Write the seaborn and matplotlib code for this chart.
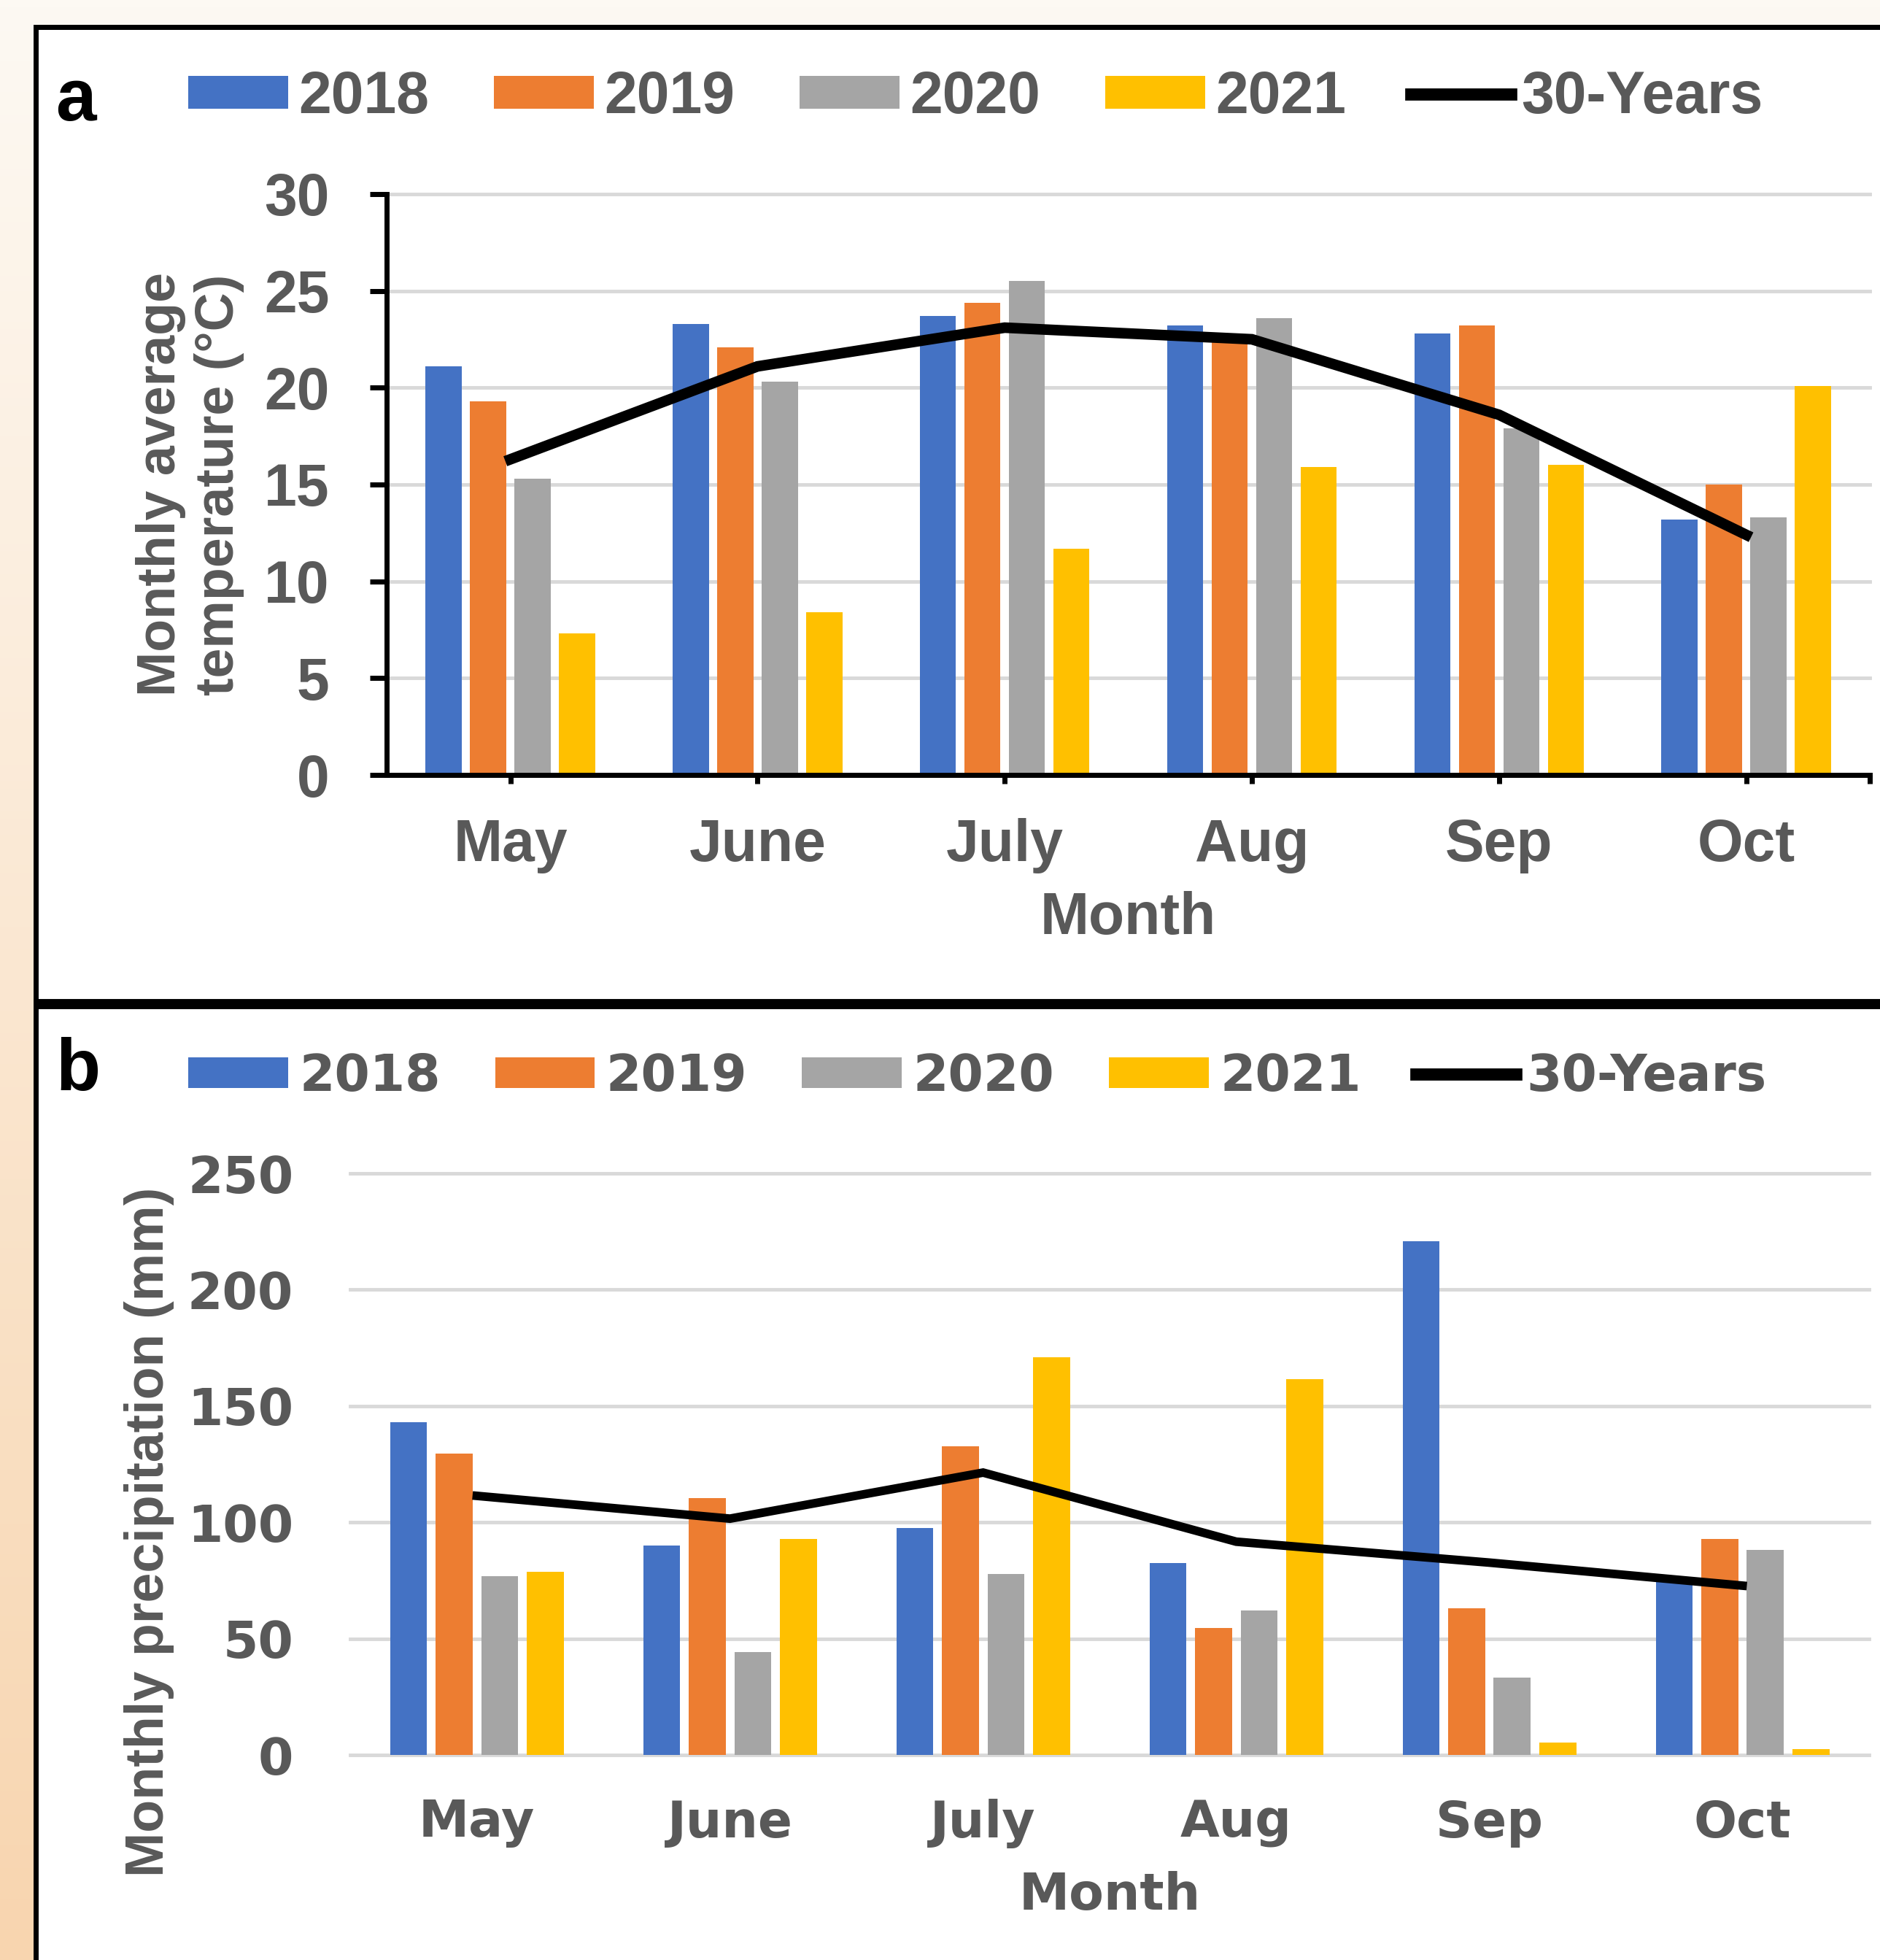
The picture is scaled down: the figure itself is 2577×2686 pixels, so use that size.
import numpy as np
import pandas as pd
import matplotlib
matplotlib.use("Agg")
import matplotlib.pyplot as plt
from matplotlib.patches import Patch, Rectangle
from matplotlib.lines import Line2D
import seaborn as sns

# data
months = ["May", "June", "July", "Aug", "Sep", "Oct"]
years = ["2018", "2019", "2020", "2021"]

temp_2018 = [21.1, 23.3, 23.7, 23.2, 22.8, 13.2]
temp_2019 = [19.3, 22.1, 24.4, 22.4, 23.2, 15.0]
temp_2020 = [15.3, 20.3, 25.5, 23.6, 17.9, 13.3]
temp_2021 = [7.3, 8.4, 11.7, 15.9, 16.0, 20.1]
temp_30yr = [16.3, 21.1, 23.1, 22.5, 18.6, 12.4]

prec_2018 = [143.0, 90.0, 97.5, 82.6, 221.0, 74.5]
prec_2019 = [129.7, 110.4, 132.6, 54.7, 63.1, 92.8]
prec_2020 = [76.8, 44.2, 77.7, 62.1, 33.3, 88.1]
prec_2021 = [78.7, 92.8, 170.9, 161.5, 5.4, 2.5]
prec_30yr = [111.4, 101.6, 121.4, 91.7, 82.7, 72.8]

colors = ["#4472C4", "#ED7D31", "#A5A5A5", "#FFC000"]
grey_txt = "#595959"
grid_col = "#d9d9d9"

plt.rcParams["font.family"] = ["Liberation Sans", "DejaVu Sans"]
plt.rcParams["font.weight"] = "bold"
plt.rcParams["axes.labelweight"] = "bold"


def long_table(series):
    return pd.DataFrame({
        "Month": months * len(years),
        "Year": np.repeat(years, len(months)),
        "value": np.concatenate(series),
    })


df_temp = long_table([temp_2018, temp_2019, temp_2020, temp_2021])
df_prec = long_table([prec_2018, prec_2019, prec_2020, prec_2021])

fig = plt.figure(figsize=(25.77, 26.86), dpi=100)

# background: cream to peach gradient, white box with black frame
bg = fig.add_axes([0, 0, 1, 1], zorder=-10)
top_c = np.array([253, 249, 243]) / 255
bot_c = np.array([248, 213, 175]) / 255
t = np.linspace(0, 1, 256)[:, None, None]
bg.imshow(top_c * (1 - t) + bot_c * t, aspect="auto", extent=[0, 1, 0, 1])
bg.axis("off")
fig.add_artist(Rectangle((0.019, -0.05), 1.1, 0.9862 + 0.05, transform=fig.transFigure,
                         facecolor="white", edgecolor="black", lw=5, zorder=-5))
fig.add_artist(Line2D([0.019, 1.0], [0.4878, 0.4878], transform=fig.transFigure,
                      color="black", lw=10, solid_capstyle="butt", zorder=-4))


def draw_panel(ax, df, normal, fam, fsize, lw):
    sns.barplot(data=df, x="Month", y="value", hue="Year", palette=colors,
                width=0.72, gap=0.19, saturation=1, errorbar=None, legend=False, ax=ax)
    sns.pointplot(x=months, y=normal, color="black", marker="", errorbar=None, ax=ax)
    for ln in ax.lines:
        ln.set_linewidth(lw)
        ln.set_solid_joinstyle("miter")
    ax.set_xlim(-0.5, 5.5)
    ax.set_axisbelow(True)
    ax.yaxis.grid(True, color=grid_col, lw=3.5)
    ax.xaxis.grid(False)
    ax.tick_params(labelsize=fsize, labelcolor=grey_txt, labelfontfamily=fam)
    ax.set_xlabel("Month", fontsize=fsize, color=grey_txt, family=fam, weight="bold")
    handles = [Patch(facecolor=c, label=y) for c, y in zip(colors, years)]
    handles.append(Line2D([], [], color="black", lw=12, label="30-Years"))
    return handles


# ---- panel a: temperature
ax_a = fig.add_axes([0.2057, 0.6046, 0.7889, 0.2964])
h = draw_panel(ax_a, df_temp, temp_30yr, "Liberation Sans", 58, 10.5)
ax_a.set_ylim(0, 30)
ax_a.set_yticks(range(0, 31, 5))
ax_a.set_xticks([5.5], minor=True)
for s in ["top", "right"]:
    ax_a.spines[s].set_visible(False)
for s in ["left", "bottom"]:
    ax_a.spines[s].set_linewidth(5)
    ax_a.spines[s].set_color("black")
ax_a.tick_params(axis="y", length=16.5, width=5, pad=40, color="black")
ax_a.tick_params(axis="x", which="both", length=8.6, width=5, pad=34, color="black")
ax_a.set_ylabel("Monthly average\ntemperature (°C)", fontsize=53, color=grey_txt, weight="bold")
ax_a.yaxis.set_label_coords(-0.096, 0.5)
ax_a.xaxis.set_label_coords(0.5, -0.20)
for gl in ax_a.get_ygridlines():
    gl.set_clip_on(False)
ax_a.legend(handles=h, loc="center left", bbox_to_anchor=(258 / 2577, 1 - 134 / 2686),
            bbox_transform=fig.transFigure, ncol=5, frameon=False, fontsize=58,
            handlelength=1.70, handleheight=0.48, handletextpad=0.18, columnspacing=1.1,
            borderpad=0, borderaxespad=0, labelcolor=grey_txt)

# ---- panel b: precipitation
ax_b = fig.add_axes([0.1863, 0.1046, 0.8079, 0.2967])
h = draw_panel(ax_b, df_prec, prec_30yr, "DejaVu Sans", 50, 8.5)
ax_b.set_ylim(0, 250)
ax_b.set_yticks(range(0, 251, 50))
for s in ax_b.spines.values():
    s.set_visible(False)
ax_b.tick_params(axis="both", length=0)
ax_b.tick_params(axis="y", pad=56)
ax_b.tick_params(axis="x", pad=43)
ax_b.set_ylabel("Monthly precipitation (mm)", fontsize=53, color=grey_txt, weight="bold")
ax_b.yaxis.set_label_coords(-0.116, 0.384)
ax_b.xaxis.set_label_coords(0.5, -0.20)
for gl in ax_b.get_ygridlines():
    gl.set_clip_on(False)
ax_b.legend(handles=h, loc="center left", bbox_to_anchor=(258 / 2577, 1 - 1475 / 2686),
            bbox_transform=fig.transFigure, ncol=5, frameon=False,
            prop={"family": "DejaVu Sans", "weight": "bold", "size": 50},
            handlelength=1.97, handleheight=0.55, handletextpad=0.22, columnspacing=1.08,
            borderpad=0, borderaxespad=0, labelcolor=grey_txt)

fig.text(104 / 2577, 1 - 165 / 2686, "a", fontsize=72, weight="bold", ha="center", va="baseline")
fig.text(107 / 2577, 1 - 1494 / 2686, "b", fontsize=72, weight="bold", ha="center", va="baseline")

fig.savefig("out.png", dpi=100)
